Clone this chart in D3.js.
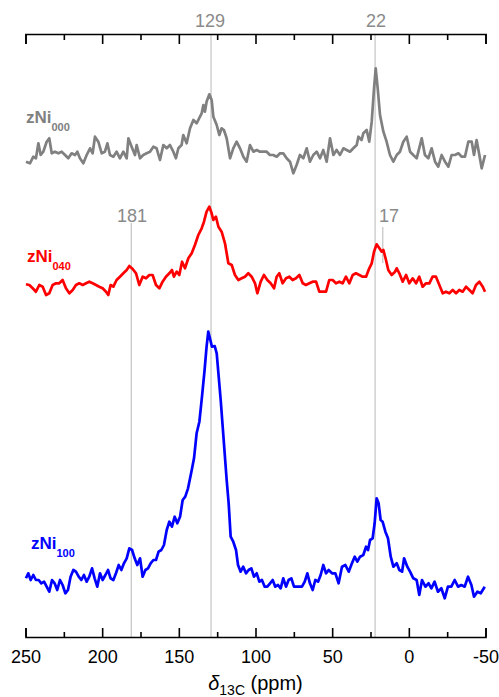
<!DOCTYPE html>
<html>
<head>
<meta charset="utf-8">
<script src="https://cdn.jsdelivr.net/npm/d3@7"></script>
<style>
  html, body { margin: 0; padding: 0; background: #fff; }
  svg { display: block; }
  text { font-family: "Liberation Sans", Arial, sans-serif; }
</style>
</head>
<body>
<svg id="chart" width="499" height="697"></svg>
<script>
// 13C NMR spectra, [chemical shift (ppm), intensity (a.u.)]
const zNi000 = [[249.7,2.3],[247.1,0.7],[244.9,7.3],[243.2,5.7],[241.6,20.7],[240.1,9],[238.4,12.3],[236.2,22.3],[234.5,25.7],[232.9,10.7],[230.8,12.3],[228.6,10.7],[226.4,12.3],[224.2,9],[222.1,5.7],[219.9,10.7],[217.7,9],[216.2,12.3],[214.5,5.7],[212.3,0.7],[210.1,9],[207.9,15.7],[206.2,10.7],[204.7,27.3],[202.5,22.3],[200.3,10.7],[198.2,12.3],[196.6,20.7],[194.9,9],[192.7,7.3],[190.6,12.3],[188.4,5.7],[186.2,12.3],[184.0,5.7],[182.9,25.7],[180.8,17.3],[178.6,9],[177.5,19],[175.3,5.7],[173.2,9],[171.0,10.7],[168.8,12.3],[166.6,17.3],[164.5,15.7],[162.3,4],[160.1,19],[157.9,15.7],[155.8,19],[153.6,12.3],[151.9,5.7],[150.3,15.7],[148.2,19],[147.1,29],[144.9,20.7],[142.7,35.7],[140.5,44],[138.4,40.7],[136.2,47.3],[135.1,50.7],[134.0,59],[133.0,52.3],[131.9,62.3],[130.1,69.7],[128.6,64],[127.5,47.3],[125.3,39],[123.6,29],[122.1,35.7],[120.6,34],[118.8,25.7],[116.6,5.7],[114.5,15.7],[112.3,22.3],[110.1,15.7],[107.9,7.3],[105.8,2.3],[103.6,19],[101.4,12.3],[99.2,14],[97.1,12.3],[94.9,12.3],[92.7,12.3],[90.6,9],[88.4,9],[86.2,7.3],[84.0,10.7],[81.9,10.7],[79.7,5.7],[77.5,2.3],[75.3,-9.3],[73.2,-1],[71.0,9],[68.8,5.7],[66.6,15.7],[64.5,2.3],[62.3,9],[60.1,12.3],[57.9,5.7],[55.8,14],[53.6,2.3],[51.4,25.7],[49.2,9],[47.1,14],[44.9,9],[42.7,15.7],[40.6,14],[38.4,12.3],[36.2,15.7],[34.0,19],[32.9,27.3],[30.8,24],[29.7,30.7],[27.5,34],[25.8,22.3],[24.2,42.3],[22.7,75.7],[21.6,95.7],[20.3,75.7],[18.8,49],[16.6,32.3],[14.5,22.3],[12.3,9],[10.1,2.3],[7.9,9],[5.8,12.3],[3.6,22.3],[1.4,27.3],[-0.8,12.3],[-2.9,9],[-5.1,5.7],[-8.4,25.7],[-10.5,9],[-12.7,5.7],[-14.9,15.7],[-17.1,2.3],[-19.2,-2.7],[-21.4,9],[-23.6,2.3],[-25.8,-2.7],[-27.9,9],[-30.1,9],[-32.3,10.7],[-34.5,7.3],[-36.6,7.3],[-38.8,22.3],[-41.0,22.3],[-42.5,9],[-44.2,24],[-46.0,9],[-47.5,-4.3],[-49.7,9]];

const zNi040 = [[249.7,5.7],[247.5,5],[245.3,1.7],[243.2,-1.7],[241,5],[238.8,3.3],[236.6,-5],[234.5,-3.3],[232.3,5],[230.1,6.7],[228,6.7],[225.8,10],[223.6,1.7],[221.4,-3.3],[219.2,0],[217.1,5],[214.9,6.7],[212.7,5],[210.5,6.7],[208.4,8.3],[206.2,6.7],[204,5],[201.9,3.3],[199.7,1.7],[197.5,-1.7],[196,-5],[194.5,5],[192.7,3.3],[190.6,10],[188.4,13.3],[186.2,16.7],[184,20],[182.3,24],[180.1,21],[177.9,16.7],[175.8,5],[173.6,13.3],[171.4,11.7],[169.2,15],[167.1,15],[164.9,5],[162.7,1.7],[160.6,8.3],[158.4,13.3],[156.2,16.7],[154.5,20],[153.2,13.3],[151.4,18.3],[149.7,15],[147.9,28.3],[146,21.7],[143.8,31.7],[141.6,36.7],[139.5,45],[137.3,55],[135.1,61.7],[133.6,68.3],[131.9,78.3],[130.1,83.3],[128.6,76.7],[127.5,70],[125.8,73.3],[124.2,63.3],[122.1,58.3],[119.9,46.7],[117.7,26.7],[115.5,25],[113.4,15],[111.2,10],[109,11.7],[106.9,13.3],[104.7,16.7],[102.5,13.3],[100.3,6.7],[98.8,-3.3],[96.6,8.3],[94.5,15],[92.3,10],[90.1,6.7],[87.9,1.7],[86.2,13.3],[84.5,16.7],[82.3,6.7],[80.1,11.7],[77.9,13.3],[75.8,10],[73.6,11.7],[71.4,15],[69.2,6.7],[67.1,5],[64.9,6.7],[62.7,8.3],[60.5,8.3],[58.4,-1.7],[56.2,-1.7],[54,-1.7],[51.9,10],[49.7,10],[47.5,6.7],[45.3,8.3],[43.2,6.7],[41,13.3],[38.8,6.7],[36.6,15],[34.5,16.7],[32.3,15],[30.1,13.3],[27.9,13.3],[25.8,21.7],[24.2,26.7],[22.7,38.3],[21,45.7],[19.2,41.7],[17.7,38.3],[16.6,40],[14.9,30],[13.4,20],[11.2,15],[9,18.3],[7.9,21.7],[6.2,16.7],[4,8.3],[1.8,15],[-0.3,6.7],[-2.5,11.7],[-4.7,6.7],[-6.8,13.3],[-9,3.3],[-11.2,6.7],[-13.4,6.7],[-15.5,13.3],[-17.7,13.3],[-19.9,5],[-22.1,-3.3],[-24.2,-1.7],[-26.4,-3.3],[-28.6,0],[-30.8,-3.3],[-32.9,0],[-35.1,-1.7],[-37.3,3.3],[-39.5,0],[-41.6,-3.3],[-43.8,5],[-46,8.3],[-48.2,3.3],[-49.7,-1.7]];

const zNi100 = [[249.7,11.7],[248.2,16.7],[246.6,10],[244.9,15],[243.2,10],[241.4,10],[239.7,6.7],[237.9,8.3],[236.2,3.3],[234.5,-1.7],[232.7,10],[231,6.7],[229.3,0],[227.5,10],[225.8,5],[224,-3.3],[222.3,0],[220.6,13.3],[218.8,20],[217.1,18.3],[215.3,13.3],[213.6,10],[211.9,15],[210.1,8.3],[208.4,13.3],[206.6,21.7],[204.9,11.7],[203.2,3.3],[201.4,16.7],[199.7,10],[197.9,15],[196.2,20],[194.5,11.7],[192.7,10],[191,16.7],[189.2,25],[187.5,20],[185.8,26.7],[184,31.7],[182.3,41.7],[180.5,40],[178.8,31.7],[177.1,25],[175.3,31.7],[173.6,13.3],[171.8,20],[170.1,21.7],[168.4,26.7],[166.6,30],[164.9,30],[163.2,38.3],[161.4,40],[159.7,45],[157.9,60],[156.2,68.3],[154.5,63.3],[152.7,73.3],[151,66.7],[149.2,73.3],[147.5,90],[145.8,93.3],[144,101.7],[141.8,118.3],[140.1,131.7],[138.4,156.7],[136.6,168.3],[134.9,193.3],[133.2,220],[131.9,243.3],[130.8,258.3],[129.7,251.7],[128.4,243.3],[126.6,244],[125.3,236.7],[124,213.3],[122.7,190],[121.4,163.3],[120.1,136.7],[118.8,110],[117.5,86.7],[116.2,53.3],[114.5,48.3],[112.7,40],[111.4,25],[109.7,18.3],[108,23.3],[106.2,16.7],[104.5,20],[102.7,21.7],[101,13.3],[99.2,16.7],[97.5,8.3],[95.8,10],[94,3.3],[92.3,3.3],[90.5,6.7],[88.8,10],[87.1,3.3],[85.3,5],[83.6,1.7],[81.9,11.7],[80.1,3.3],[78.4,10],[76.6,11.7],[74.9,3.3],[73.2,3.3],[71.4,3.3],[69.7,3.3],[67.9,8.3],[66.2,16.7],[64.5,6.7],[62.7,0],[61,10],[59.2,8.3],[57.5,15],[55.8,25],[54,16.7],[52.3,20],[50.1,16.7],[47.9,16.7],[45.8,6.7],[43.6,23.3],[41.4,25],[39.2,18.3],[37.1,26.7],[35.3,33.3],[33.6,28.3],[31.8,33.3],[29.7,35],[27.9,43.3],[26.6,40],[25.3,50],[23.6,51.7],[22.3,66.7],[21,91.7],[19.7,86.7],[18.4,70],[17.1,68.3],[15.3,58.3],[13.6,51.7],[11.8,33.3],[10.1,23.3],[7.9,26.7],[6.2,20],[4.4,18.3],[3.1,31.7],[1,23.3],[-0.8,18.3],[-2.9,11.7],[-5.1,10],[-6.8,-5],[-8.6,10],[-10.8,3.3],[-12.9,6.7],[-14.7,1.7],[-16.8,8.3],[-19,-1.7],[-21.2,1.7],[-23.4,-8.3],[-25.5,3.3],[-27.7,3.3],[-29.9,10],[-32.1,3.3],[-34.2,5],[-36.4,3.3],[-38.6,13.3],[-40.8,5],[-42.5,-6.7],[-44.7,-1.7],[-46.9,-3.3],[-49.5,3.3]];

// stacking offsets (a.u.) for each spectrum
const seriesNames   = ["zNi", "zNi", "zNi"];
const seriesSubs    = ["000", "040", "100"];
const seriesColors  = ["#808080", "#ff0000", "#0000ff"];
const seriesOffsets = [473, 347, 47];
const seriesData    = [zNi000, zNi040, zNi100];

// axis ticks
const majorTicks = [250, 200, 150, 100, 50, 0, -50];
const minorTicks = [225, 175, 125, 75, 25, -25];

// assigned peak positions
const peakLabels = ["129", "22", "181", "17"];
const peakPpm    = [129, 22, 181, 17];

const svg = d3.select("#chart");
const plotL = 25.5, plotR = 485.5, plotT = 34, plotB = 637;

const x = d3.scaleLinear().domain([250, -50]).range([plotL, plotR]);
const y = d3.scaleLinear().domain([0, plotB - plotT]).range([plotB, plotT]);

// reference lines for the assigned peaks
const refSpans = [[plotT, plotB], [plotT, plotB], [223, plotB], [227, 263]];
svg.append("g").selectAll("line").data(peakPpm).join("line")
  .attr("x1", d => x(d)).attr("x2", d => x(d))
  .attr("y1", (d, i) => refSpans[i][0]).attr("y2", (d, i) => refSpans[i][1])
  .attr("stroke", "#c4c4c4").attr("stroke-width", 1.2);

// spectra
const line = d3.line().x(d => x(d[0]));
seriesData.forEach((data, i) => {
  svg.append("path")
    .datum(data)
    .attr("fill", "none")
    .attr("stroke", seriesColors[i])
    .attr("stroke-width", 2.7)
    .attr("stroke-linejoin", "round")
    .attr("d", line.y(d => y(seriesOffsets[i] + d[1])));
});

// peak labels
const labelPos = [[210, 27], [376, 27], [132, 222], [389, 222]];
svg.append("g").selectAll("text").data(peakLabels).join("text")
  .attr("x", (d, i) => labelPos[i][0]).attr("y", (d, i) => labelPos[i][1])
  .attr("text-anchor", "middle")
  .attr("font-size", 18)
  .attr("fill", "#8a8a8a")
  .text(d => d);

// series labels
const namePos = [[26, 123], [27, 262], [31, 549]];
seriesNames.forEach((n, i) => {
  const t = svg.append("text")
    .attr("x", namePos[i][0]).attr("y", namePos[i][1])
    .attr("font-size", 17).attr("font-weight", "bold")
    .attr("fill", seriesColors[i]);
  t.append("tspan").text(n);
  t.append("tspan").attr("dy", 8).attr("font-size", 11).text(seriesSubs[i]);
});

// bottom axis (ticks pointing inward)
const xAxisBottom = d3.axisBottom(x).tickValues(majorTicks).tickSize(-9).tickPadding(13)
  .tickFormat(d3.format("d"));
const gB = svg.append("g").attr("transform", `translate(0,${plotB})`).call(xAxisBottom);
gB.select(".domain").attr("stroke", "#000").attr("stroke-width", 1.6);
gB.selectAll(".tick line").attr("stroke", "#000").attr("stroke-width", 1.6);
gB.selectAll(".tick text").attr("font-size", 18).attr("fill", "#000")
  .attr("font-family", "'Liberation Sans', Arial, sans-serif")
  .text(d => d < 0 ? "-" + Math.abs(d) : d);
svg.append("g").attr("transform", `translate(0,${plotB})`)
  .call(d3.axisBottom(x).tickValues(minorTicks).tickSize(-5).tickFormat(""))
  .call(g => g.select(".domain").remove())
  .selectAll(".tick line").attr("stroke", "#000").attr("stroke-width", 1.6);

// top axis (ticks pointing inward, no labels)
const gT = svg.append("g").attr("transform", `translate(0,${plotT})`)
  .call(d3.axisTop(x).tickValues(majorTicks).tickSize(-10).tickFormat(""));
gT.select(".domain").attr("stroke", "#000").attr("stroke-width", 1.6);
gT.selectAll(".tick line").attr("stroke", "#000").attr("stroke-width", 1.6);
svg.append("g").attr("transform", `translate(0,${plotT})`)
  .call(d3.axisTop(x).tickValues(minorTicks).tickSize(-6).tickFormat(""))
  .call(g => g.select(".domain").remove())
  .selectAll(".tick line").attr("stroke", "#000").attr("stroke-width", 1.6);

// axis title
const title = svg.append("text")
  .attr("x", (plotL + plotR) / 2).attr("y", 690)
  .attr("text-anchor", "middle")
  .attr("font-size", 20).attr("fill", "#000");
title.append("tspan").attr("font-style", "italic").text("δ");
title.append("tspan").attr("dy", 5).attr("font-size", 14).text("13C");
title.append("tspan").attr("dy", -5).text(" (ppm)");
</script>
</body>
</html>
